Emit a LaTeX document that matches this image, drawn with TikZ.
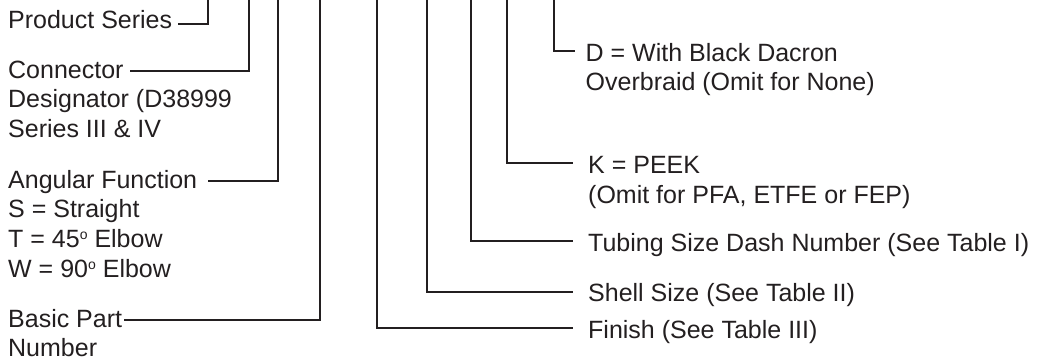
\documentclass[tikz,border=0pt]{standalone}
\usepackage{fontspec}
\setmainfont{Liberation Sans}
\definecolor{ink}{HTML}{231F20}
\newcommand\degsup{\raisebox{0.62ex}{\fontsize{14}{14}\selectfont o}}

\begin{document}
\begin{tikzpicture}[x=1pt, y=-1pt,
  lbl/.style={anchor=base west, inner sep=0pt, text=ink, font=\fontsize{25}{29.5}\selectfont},
  lead/.style={draw=ink, line width=1.8pt}]
  \useasboundingbox (0,0) rectangle (1039,360);
  % left legend
  \node[lbl] (series) at (8,28) {Product Series};
  \node[lbl] (conn) at (8,78) {Connector};
  \node[lbl] (conn2) at ([yshift=-29.5pt]conn.base west) {Designator (D38999};
  \node[lbl] (conn3) at ([yshift=-29.5pt]conn2.base west) {Series III \& IV};
  \node[lbl] (angle) at (8,188) {Angular Function};
  \node[lbl] (angle2) at ([yshift=-29.5pt]angle.base west) {S = Straight};
  \node[lbl] (angle3) at ([yshift=-30pt]angle2.base west) {T = 45\degsup{} Elbow};
  \node[lbl] (angle4) at ([yshift=-30pt]angle3.base west) {W = 90\degsup{} Elbow};
  \node[lbl] (basic) at (8,327.5) {Basic Part};
  \node[lbl] (basic2) at ([yshift=-29pt]basic.base west) {Number};
  % right legend
  \node[lbl] (braid) at (585.5,61) {D = With Black Dacron};
  \node[lbl] (braid2) at ([yshift=-29.5pt]braid.base west) {Overbraid (Omit for None)};
  \node[lbl] (peek) at (588,173) {K = PEEK};
  \node[lbl] (peek2) at ([yshift=-30pt]peek.base west) {(Omit for PFA, ETFE or FEP)};
  \node[lbl] (tube) at (588,251) {Tubing Size Dash Number (See Table I)};
  \node[lbl] (shell) at (588,301) {Shell Size (See Table II)};
  \node[lbl] (finish) at (588,338) {Finish (See Table III)};
  % top ends of the leads
  \coordinate (series top) at (208,0);
  \coordinate (conn top) at (249,0);
  \coordinate (angle top) at (278,0);
  \coordinate (basic top) at (320,0);
  \coordinate (finish top) at (377,0);
  \coordinate (shell top) at (427,0);
  \coordinate (tube top) at (471,0);
  \coordinate (peek top) at (507,0);
  \coordinate (braid top) at (554,0);
  % leads
  \draw[lead] ([xshift=6pt,yshift=4pt]series.base east) -| (series top);
  \draw[lead] ([xshift=6.7pt,yshift=7pt]conn.base east) -| (conn top);
  \draw[lead] ([xshift=11pt,yshift=7pt]angle.base east) -| (angle top);
  \draw[lead] ([xshift=2pt,yshift=7.5pt]basic.base east) -| (basic top);
  \draw[lead] (finish top) |- ([xshift=-15pt,yshift=10pt]finish.base west);
  \draw[lead] (shell top) |- ([xshift=-15pt,yshift=9pt]shell.base west);
  \draw[lead] (tube top) |- ([xshift=-15pt,yshift=10pt]tube.base west);
  \draw[lead] (peek top) |- ([xshift=-15pt,yshift=10pt]peek.base west);
  \draw[lead] (braid top) |- ([xshift=-10.5pt,yshift=10pt]braid.base west);
\end{tikzpicture}
\end{document}
